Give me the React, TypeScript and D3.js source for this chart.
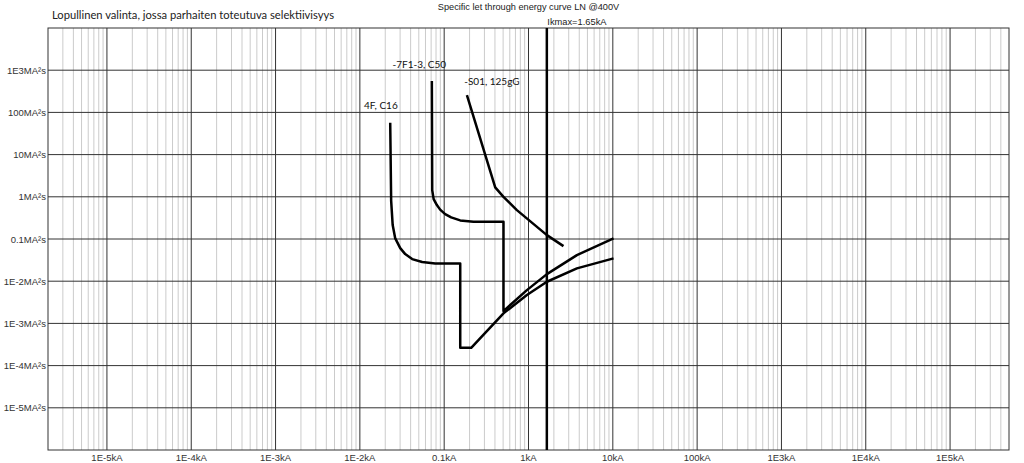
import React from "react";
import * as d3 from "d3";

const W = 1024;
const H = 463;

const titleLeft = "Lopullinen valinta, jossa parhaiten toteutuva selektiivisyys";
const titleTop = "Specific let through energy curve LN @400V";
const ikmaxLabel = "Ikmax=1.65kA";
const ikmax = 1.65;

const xDomain = [2e-6, 5e5];
const yDomain = [1e-6, 1e4];

const xTickValues = [1e-5, 1e-4, 1e-3, 1e-2, 0.1, 1, 10, 100, 1e3, 1e4, 1e5];
const xTickLabels = ["1E-5kA", "1E-4kA", "1E-3kA", "1E-2kA", "0.1kA", "1kA", "10kA", "100kA", "1E3kA", "1E4kA", "1E5kA"];
const yTickValues = [1e3, 100, 10, 1, 0.1, 1e-2, 1e-3, 1e-4, 1e-5];
const yTickLabels = ["1E3MA²s", "100MA²s", "10MA²s", "1MA²s", "0.1MA²s", "1E-2MA²s", "1E-3MA²s", "1E-4MA²s", "1E-5MA²s"];

// [kA, MA²s]
const curveC16: [number, number][] = [
  [0.0229, 57], [0.0235, 0.8], [0.0245, 0.2135], [0.0262, 0.105], [0.0301, 0.0609],
  [0.0345, 0.0439], [0.0417, 0.0334], [0.0548, 0.0284], [0.0782, 0.0264],
  [0.155, 0.0264], [0.155, 0.000264], [0.209, 0.000264],
  [0.505, 0.00173], [0.957, 0.0047], [1.653, 0.0097], [3.75, 0.0201], [10.2, 0.0347],
];
const curveC50: [number, number][] = [
  [0.0714, 552], [0.0721, 1.44], [0.075, 0.882], [0.0819, 0.636], [0.0896, 0.497],
  [0.1027, 0.389], [0.121, 0.325], [0.1548, 0.276], [0.2227, 0.256],
  [0.505, 0.256], [0.505, 0.00196], [0.957, 0.00615],
  [1.653, 0.0147], [3.75, 0.0416], [10.2, 0.103],
];
const curveS01: [number, number][] = [
  [0.186, 257], [0.403, 1.67], [0.505, 1.0], [0.728, 0.484], [1.653, 0.1237], [2.6, 0.0679],
];

const curveLabels: { text: string; at: [number, number] }[] = [
  { text: "4F, C16", at: [0.0112, 120] },
  { text: "-7F1-3, C50", at: [0.0244, 1153] },
  { text: "-S01, 125gG", at: [0.1727, 443] },
];

export default function App() {
  const left = 48, right = 1009, top = 28, bottom = 450;
  const x = d3.scaleLog().domain(xDomain).range([left, right]);
  const y = d3.scaleLog().domain(yDomain).range([bottom, top]);

  const minor: number[] = [];
  for (let e = -6; e <= 5; e++) {
    for (let m = 2; m <= 9; m++) {
      const v = m * Math.pow(10, e);
      if (v > xDomain[0] * 1.0001 && v < xDomain[1] * 0.9999) minor.push(v);
    }
  }

  const line = d3
    .line<[number, number]>()
    .x((d) => x(d[0]))
    .y((d) => y(d[1]))
    .curve(d3.curveLinear);

  const curves = [curveC16, curveC50, curveS01];
  const calibri = "Lato, 'Open Sans', sans-serif";
  const arial = "'Liberation Sans', Arial, sans-serif";

  return (
    <svg
      width={W}
      height={H}
      style={{ position: "absolute", left: 0, top: 0, background: "#fff" }}
    >
      <rect x={0} y={0} width={W} height={H} fill="#fff" />
      <text x={52} y={19} fontFamily={calibri} fontSize={11.2} fill="#222">
        {titleLeft}
      </text>
      <text x={(left + right) / 2} y={9.5} textAnchor="middle" fontFamily={arial} fontSize={9.2} fill="#222">
        {titleTop}
      </text>
      {minor.map((v, i) => (
        <line key={"m" + i} x1={x(v)} x2={x(v)} y1={top} y2={bottom} stroke="#cbcbcb" strokeWidth={1} />
      ))}
      {xTickValues.map((v, i) => (
        <line key={"xM" + i} x1={x(v)} x2={x(v)} y1={top} y2={bottom} stroke="#333" strokeWidth={1} />
      ))}
      {yTickValues.map((v, i) => (
        <line key={"yM" + i} x1={left} x2={right} y1={y(v)} y2={y(v)} stroke="#333" strokeWidth={1} />
      ))}
      <rect x={left} y={top} width={right - left} height={bottom - top} fill="none" stroke="#333" strokeWidth={1} />
      {yTickValues.map((v, i) => (
        <text key={"yl" + i} x={left - 2} y={y(v) + 3.5} textAnchor="end" fontFamily={arial} fontSize={9.5} fill="#333">
          {yTickLabels[i]}
        </text>
      ))}
      {xTickValues.map((v, i) => (
        <text key={"xl" + i} x={x(v)} y={461} textAnchor="middle" fontFamily={arial} fontSize={9.5} fill="#333">
          {xTickLabels[i]}
        </text>
      ))}
      <line x1={x(ikmax)} x2={x(ikmax)} y1={top} y2={bottom} stroke="#000" strokeWidth={2.5} />
      <text x={x(ikmax) + 0.5} y={25} fontFamily={arial} fontSize={9.3} fill="#222">
        {ikmaxLabel}
      </text>
      {curves.map((c, i) => (
        <path key={"c" + i} d={line(c) || ""} fill="none" stroke="#000" strokeWidth={2.5} strokeLinejoin="round" strokeLinecap="butt" />
      ))}
      {curveLabels.map((l, i) => (
        <text key={"cl" + i} x={x(l.at[0])} y={y(l.at[1])} fontFamily={calibri} fontSize={10} fill="#111">
          {l.text}
        </text>
      ))}
    </svg>
  );
}
